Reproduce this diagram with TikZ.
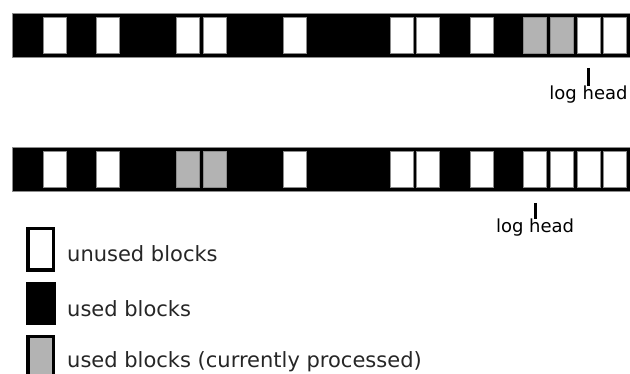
\documentclass[tikz,border=0pt]{standalone}
\usepackage{fontspec}
\setmainfont{DejaVu Sans}
\definecolor{procgray}{HTML}{B3B3B3}
\definecolor{edgegray}{HTML}{8C8C8C}
\tikzset{
  bar/.style={fill=black, draw=edgegray, line width=0.8pt},
  blk/.style={rectangle, draw=edgegray, line width=0.8pt, minimum width=23pt, minimum height=36pt, inner sep=0pt, outer sep=0pt},
  headtick/.style={line width=3pt},
  headlabel/.style={inner sep=0pt, font=\fontsize{18}{21}\selectfont},
  legtext/.style={inner sep=0pt, anchor=base west, text=black!85, font=\fontsize{21}{25}\selectfont},
}
\begin{document}
\begin{tikzpicture}[x=1pt, y=-1pt]
\useasboundingbox (0,0) rectangle (630,374);
%bars
	\draw[bar] (12,13) rectangle (634,57);
	\draw[bar] (12,147) rectangle (634,191);

%blocks, top bar
	\foreach \k/\c in {0/white, 2/white, 5/white, 6/white, 9/white, 13/white, 14/white, 16/white, 18/procgray, 19/procgray, 20/white, 21/white}{
		\node[blk, fill=\c] (t\k) at (54.5+26.7*\k, 35) {};
	}

%blocks, bottom bar
	\foreach \k/\c in {0/white, 2/white, 5/procgray, 6/procgray, 9/white, 13/white, 14/white, 16/white, 18/white, 19/white, 20/white, 21/white}{
		\node[blk, fill=\c] (b\k) at (54.5+26.7*\k, 169) {};
	}

%log head
	\node[headlabel, anchor=north] (lh1) at (t20.south |- 0,86) {log head};
	\coordinate (tk1) at (t20.south |- 0,68);
	\draw[headtick] (tk1) -- (tk1 |- lh1.north);

	\node[headlabel, anchor=north] (lh2) at (b18.south |- 0,219) {log head};
	\coordinate (tk2) at (b18.south |- 0,203);
	\draw[headtick] (tk2) -- (tk2 |- lh2.north);

%legend
	\draw[line width=3.5pt, fill=white] (27.75,228.75) rectangle (53.25,270.25);
	\fill[black] (26,282) rectangle (56,325);
	\draw[line width=3.5pt, fill=procgray] (27.75,336.75) rectangle (53.25,378);

	\node[legtext] (l1) at (67,262) {unused blocks};
	\node[legtext] (l2) at (67,317) {used blocks};
	\node[legtext] (l3) at (67,368) {used blocks (currently processed)};

\end{tikzpicture}
\end{document}
